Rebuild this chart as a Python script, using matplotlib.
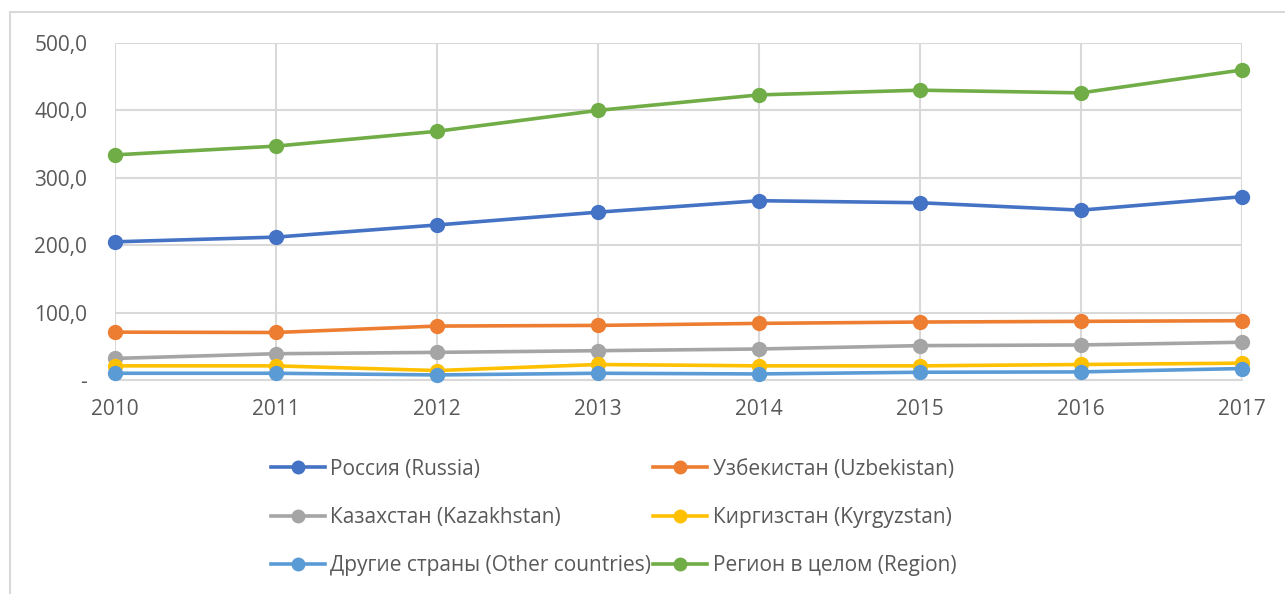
import matplotlib as mpl
mpl.use('Agg')
import matplotlib.pyplot as plt
from matplotlib.lines import Line2D
from matplotlib.ticker import FuncFormatter

# data
years = [2010, 2011, 2012, 2013, 2014, 2015, 2016, 2017]
russia = [205, 212, 230, 249, 266, 263, 252, 272]
uzbekistan = [71, 70.5, 80, 81, 84, 86, 87, 88]
kazakhstan = [32, 39, 41, 43.5, 46, 51, 52, 56]
kyrgyzstan = [21, 21, 14, 23, 21, 21, 23, 25]
other = [10, 10, 7.5, 10, 9, 11.5, 12, 17]
region = [334, 347, 369, 400, 423, 430, 426, 460]

labels = ['Россия (Russia)', 'Узбекистан (Uzbekistan)',
          'Казахстан (Kazakhstan)', 'Киргизстан (Kyrgyzstan)',
          'Другие страны (Other countries)', 'Регион в целом (Region)']
colors = ['#4472C4', '#ED7D31', '#A5A5A5', '#FFC000', '#5B9BD5', '#70AD47']
series = [russia, uzbekistan, kazakhstan, kyrgyzstan, other, region]

plt.rcParams['font.family'] = ['Open Sans', 'DejaVu Sans']
TXT = '#595959'
GRID = '#D9D9D9'

fig = plt.figure(figsize=(12.85, 5.94), dpi=100)
ax = fig.add_axes([115/1285, 1-380/594, (1242-115)/1285, (380-43)/594])

for vals, c in zip(series, colors):
    ax.plot(years, vals, color=c, lw=2.6, marker='o', markersize=10,
            solid_capstyle='round', clip_on=False, zorder=3)

ax.set_xlim(2010, 2017)
ax.set_ylim(0, 500)
ax.set_yticks(range(0, 501, 100))
ax.set_xticks(years)
ax.yaxis.set_major_formatter(FuncFormatter(
    lambda v, p: '-' if v == 0 else ('%.1f' % v).replace('.', ',')))
ax.grid(True, color=GRID, lw=1.5, zorder=0)
for s in ['top', 'right', 'left']:
    ax.spines[s].set_visible(False)
ax.spines['bottom'].set_color(GRID)
ax.spines['bottom'].set_linewidth(1.5)
ax.tick_params(length=0, labelsize=15, colors=TXT)
ax.tick_params(axis='x', pad=14)
ax.tick_params(axis='y', pad=20)

# legend, 2 columns x 3 rows, filled row by row like Excel
order = [0, 2, 4, 1, 3, 5]
handles = [Line2D([], [], color=colors[i], lw=2.6, marker='o', markersize=9) for i in order]
fig.legend(handles, [labels[i] for i in order], loc='upper left',
           bbox_to_anchor=(252/1285, 1-440/594),
           ncol=2, frameon=False, fontsize=15, labelcolor=TXT,
           handlelength=2.6, handletextpad=0.25, columnspacing=0.1,
           labelspacing=1.3)

# outer chart frame (cropped on right and bottom)
fig.add_artist(Line2D([10/1285, 10/1285], [0, 1-12/594], color=GRID, lw=1.5,
                      transform=fig.transFigure))
fig.add_artist(Line2D([10/1285, 1], [1-12/594, 1-12/594], color=GRID, lw=1.5,
                      transform=fig.transFigure))

fig.savefig('out.png', dpi=100)
plt.close(fig)
